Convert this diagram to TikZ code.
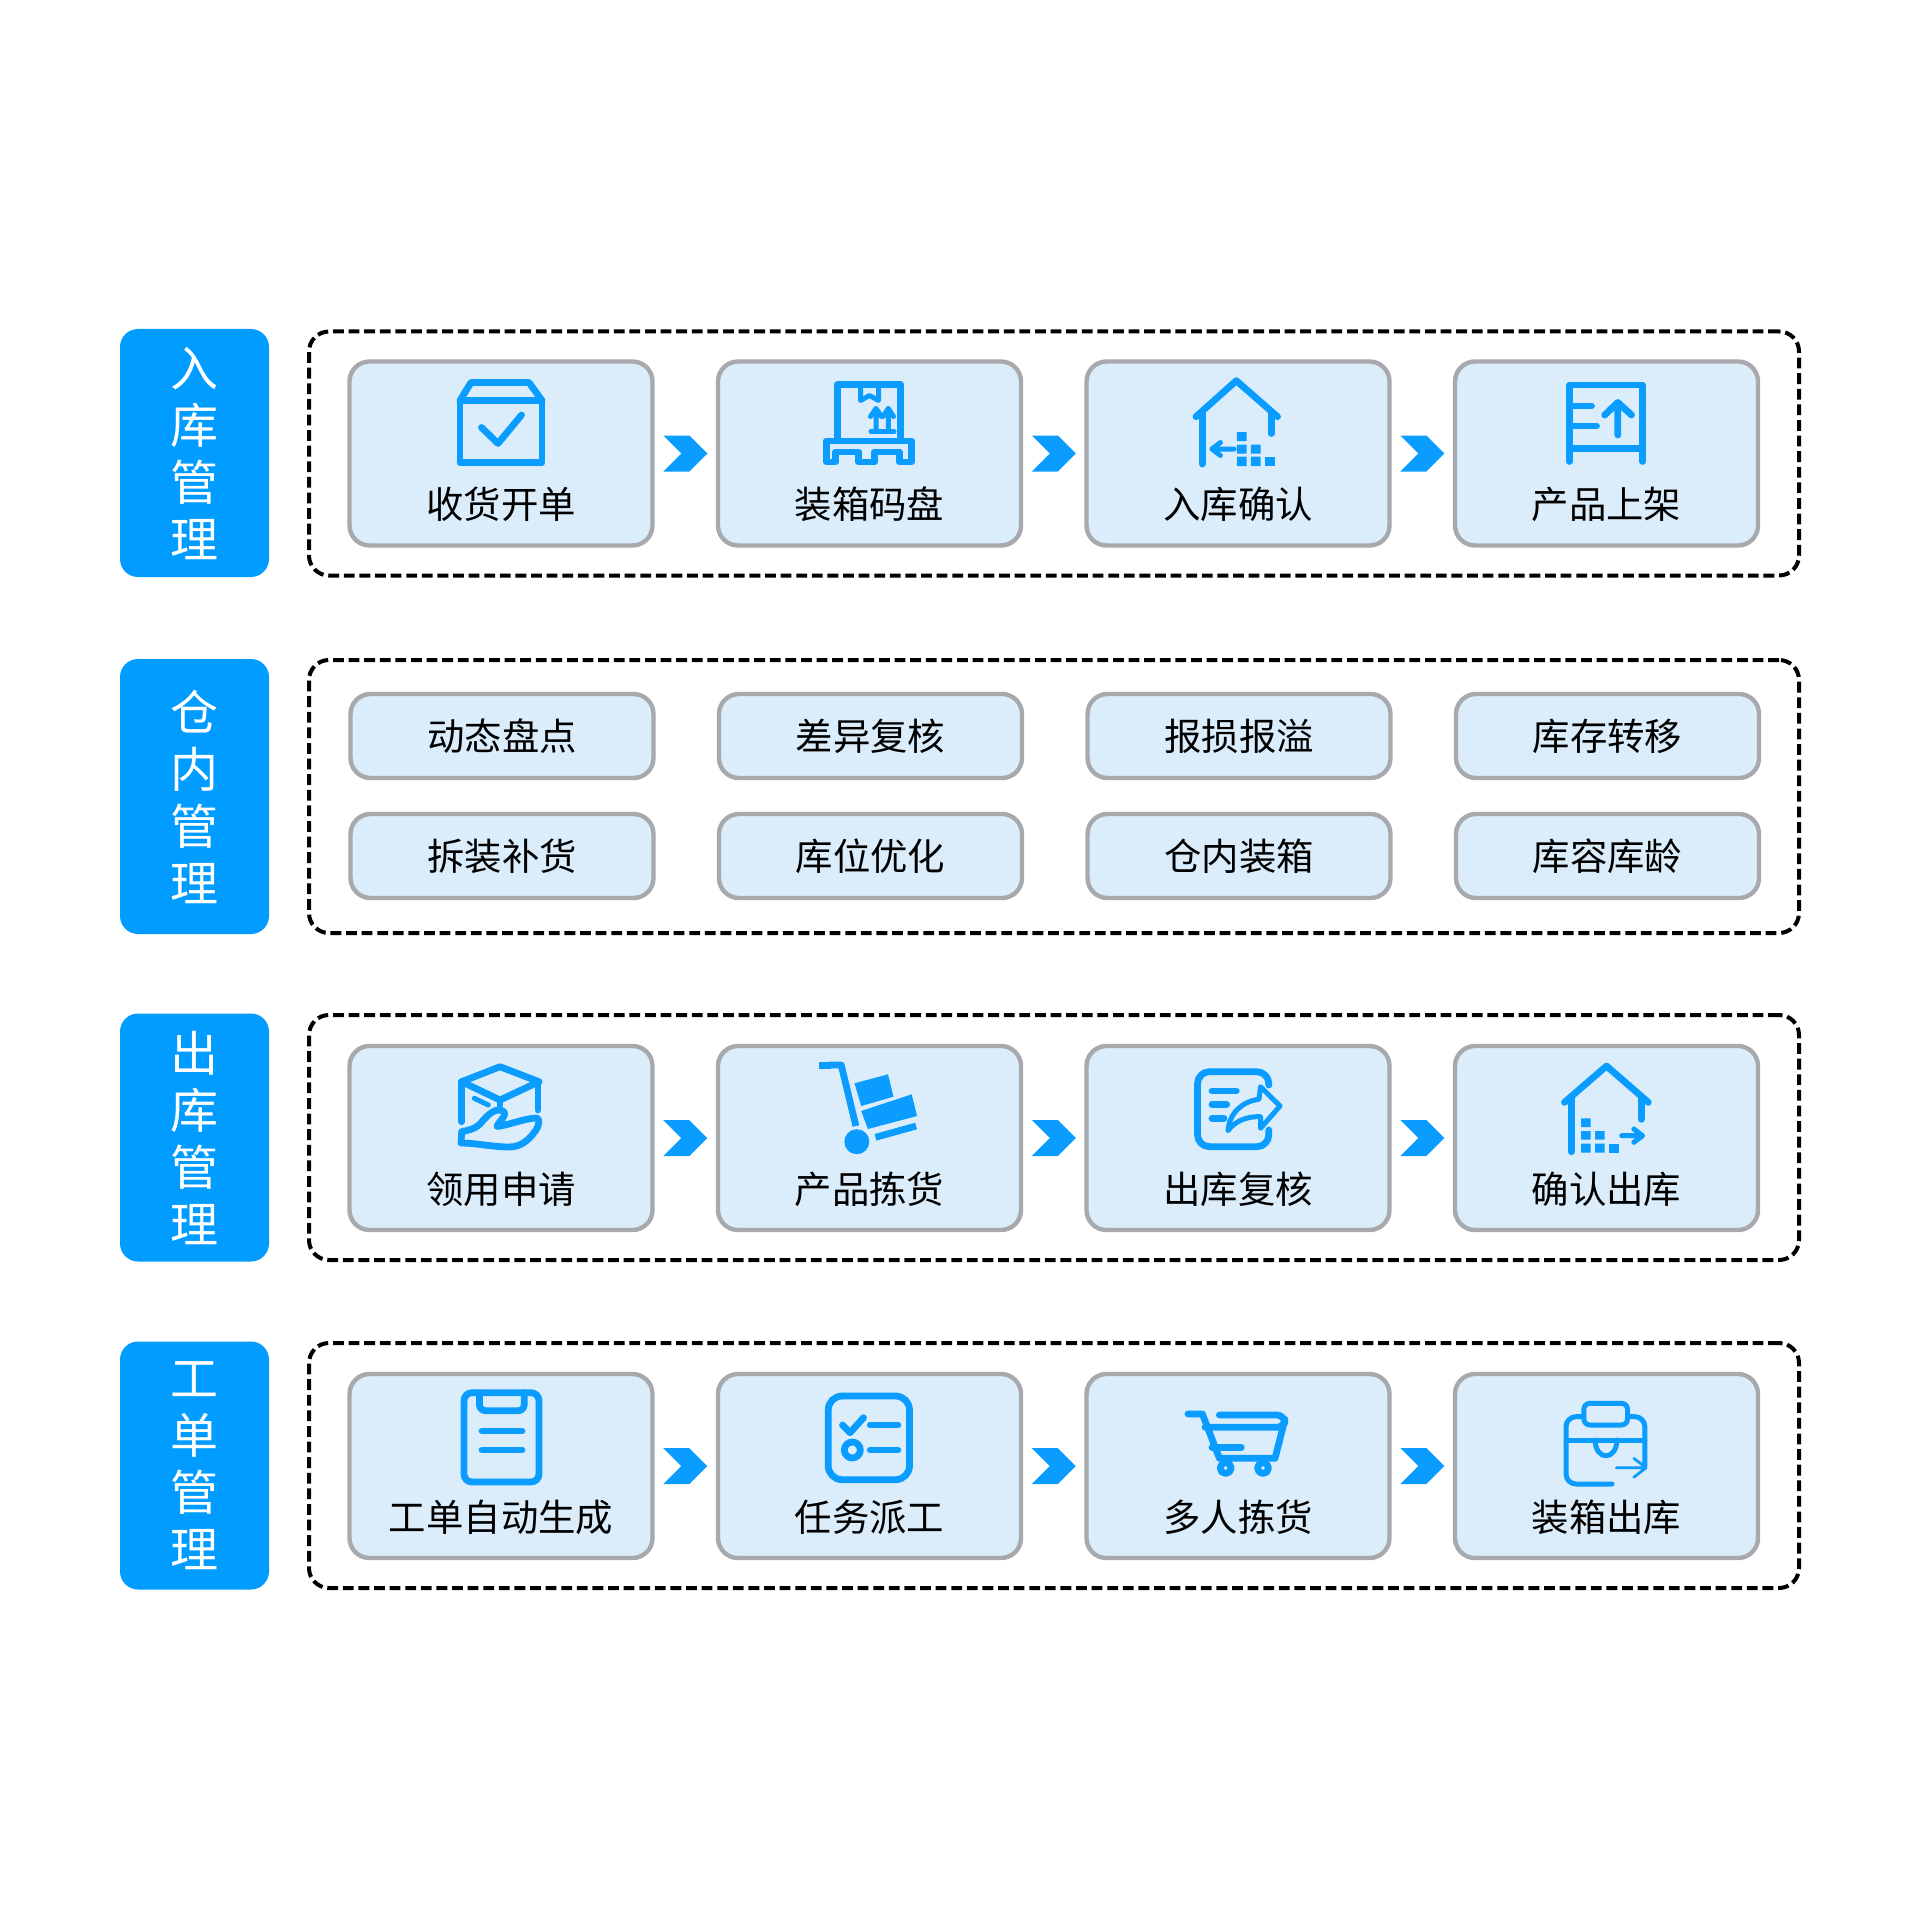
\documentclass[tikz,border=0pt]{standalone}
\usepackage{fontspec}
\setmainfont{Noto Sans CJK SC}
\usetikzlibrary{shapes.symbols}
\definecolor{headblue}{RGB}{0,156,255}
\definecolor{iconblue}{RGB}{10,157,255}
\definecolor{cardfill}{RGB}{219,237,251}
\definecolor{cardgray}{RGB}{167,169,172}

\begin{document}
\begin{tikzpicture}[x=0.5pt, y=-0.5pt,
    head/.style={rectangle, rounded corners=9pt, fill=headblue, text=white, align=center, minimum width=74.5pt, inner sep=0pt,
    	font=\fontsize{24}{28.5}\selectfont},
    frame/.style={rectangle, draw=black, line width=2pt, rounded corners=10pt, dash pattern=on 5.4pt off 2.4pt, minimum width=745pt, inner sep=0pt},
    card/.style={rectangle, draw=cardgray, fill=cardfill, line width=2.2pt, rounded corners=10pt, minimum width=151.5pt, minimum height=92pt, inner sep=0pt},
    tag/.style={card, minimum height=42pt, font=\fontsize{18.7}{22}\selectfont, text=black},
    cardtext/.style={inner sep=0pt, font=\fontsize{18.7}{22}\selectfont, text=black},
    chevron/.style={signal, signal to=east, signal from=west, signal pointer angle=90, fill=iconblue, minimum width=22pt, minimum height=18pt, inner sep=0pt},
    iconline/.style={draw=iconblue, line width=3.4pt, line cap=round, line join=round},
    iconthin/.style={draw=iconblue, line width=2.5pt, line cap=round, line join=round},
    boxcheck/.pic={
	\draw[iconline] (-41,-53) -- (41,-53) -- (41,9) -- (-41,9) -- cycle;
	\draw[iconline] (-41,-53) -- (-30,-71) -- (28,-71) -- (41,-53);
	\draw[iconline] (-19.5,-26) -- (-3,-10) -- (20.5,-38.5);
    },
    pallet/.pic={
	\draw[iconline] (-32,-14) -- (-32,-69) -- (31,-69) -- (31,-14);
	\draw[iconline] (-43,-12.5) -- (42,-12.5) -- (42,8.5) -- (30,8.5) -- (30,-1.5) -- (5,-1.5) -- (5,8.5) -- (-11,8.5) -- (-11,-1.5) -- (-34,-1.5) -- (-34,8.5) -- (-43,8.5) -- cycle;
	\draw[iconthin] (-9,-69) -- (-9,-53) -- (0,-58) -- (9,-53) -- (9,-69);
	\draw[iconthin] (6.5,-23) -- (6.5,-45) (1,-37) -- (6.5,-45) -- (12,-37);
	\draw[iconthin] (18.8,-23) -- (18.8,-45) (13.5,-37) -- (18.8,-45) -- (24,-37);
	\draw[iconthin] (1.5,-22) -- (24.5,-22);
    },
    housein/.pic={
	\draw[iconline] (-42,-36.8) -- (-1.7,-72.8) -- (39.5,-36.8);
	\draw[iconline] (-35.6,-42) -- (-35.6,10.5);
	\draw[iconline] (33.2,-40) -- (33.2,-20);
	\draw[iconthin] (-4,-4.5) -- (-26,-4.5) (-17.6,-11) -- (-26,-4.5) -- (-17.6,2);
	\fill[iconblue] (-1.2,-21.5) rectangle (8.5,-12.5) (-1.2,-9) rectangle (8.5,0) (-1.2,3) rectangle (8.5,12.5);
	\fill[iconblue] (12.9,-9) rectangle (22.6,0) (12.9,3) rectangle (22.6,12.5);
	\fill[iconblue] (27,3) rectangle (36.6,12.5);
    },
    shelf/.pic={
	\draw[iconline] (-37,8) -- (-37,-68.5) -- (36,-68.5) -- (36,8);
	\draw[iconline] (-37,-5) -- (36,-5);
	\draw[iconline] (-37,-47.5) -- (-15,-47.5) (-37,-27.5) -- (-10,-27.5);
	\draw[iconline] (11.3,-18.5) -- (11.3,-51) (-1.8,-38.5) -- (11.3,-51) -- (25,-38.5);
    },
    boxhand/.pic={
	\draw[iconline] (-1,-71.3) -- (38,-56.3) -- (-1,-38) -- (-39.3,-56.3) -- cycle;
	\draw[iconline] (-39.3,-56.3) -- (-39.3,-16.3) (37,-56.3) -- (37,-28) (-1,-38) -- (-1,-33);
	\draw[iconthin] (-26.7,-39.7) -- (-12.7,-33);
	\draw[iconline] (-39.3,-6.3) .. controls (-32,-8) and (-26,-9) .. (-21,-14) .. controls (-16,-20) and (-10,-27) .. (-3,-28) .. controls (2,-28) and (5,-26) .. (3,-22) .. controls (1,-18) and (-3,-15) .. (-4,-11.5) .. controls (8,-13) and (25,-20) .. (36,-20) .. controls (39,-19) and (38,-12) .. (35,-8) .. controls (28,2) and (20,9) .. (8,9) .. controls (-8,9) and (-25,5) .. (-40,5) -- cycle;
    },
    trolley/.pic={
	\fill[iconblue] (-50.7,-75.7) rectangle (-38.6,-68.7);
	\draw[iconline, line cap=butt] (-40,-73) -- (-28.3,-73) -- (-13.6,-12);
	\fill[iconblue] (-12.7,3.7) circle[radius=12.5];
	\fill[iconblue] (-15,-54.7) -- (18.5,-63.7) -- (24,-41.3) -- (-8.3,-32) -- cycle;
	\fill[iconblue] (-8.3,-27) -- (42.2,-43.7) -- (47.5,-22) -- (-1.6,-9) -- cycle;
	\draw[iconline, line cap=butt] (6,-0.7) -- (46.6,-12);
    },
    docshare/.pic={
	\draw[iconline, rounded corners=6pt] (30.8,-53) -- (30.8,-66.3) -- (-40.5,-66.3) -- (-40.5,8.7) -- (30.8,8.7) -- (30.8,-8);
	\draw[iconline] (-26,-47) -- (-1.7,-47) (-26,-33.7) -- (-11.4,-33.7) (-26,-19.7) -- (-14,-19.7);
	\draw[iconthin] (-10,-7.3) .. controls (-9,-25) and (5,-37) .. (21,-38.7) -- (22.5,-51.3) -- (42,-32) -- (22.5,-9.7) -- (22.5,-21.3) .. controls (8,-22) and (-4,-16) .. (-10,-7.3) -- cycle;
    },
    houseout/.pic={
	\draw[iconline] (-42,-35.7) -- (0,-72) -- (41.8,-35.7);
	\draw[iconline] (-35.3,-41) -- (-35.3,13.7);
	\draw[iconline] (34.6,-40) -- (34.6,-18.7);
	\fill[iconblue] (-25.5,-19.7) rectangle (-15.8,-11) (-25.5,-7) rectangle (-15.8,1.5) (-25.5,5.7) rectangle (-15.8,14.7);
	\fill[iconblue] (-11.5,-7) rectangle (-1.8,1.5) (-11.5,5.7) rectangle (-1.8,14.7);
	\fill[iconblue] (2.6,5.7) rectangle (12.2,14.7);
	\draw[iconthin] (15.2,-2.3) -- (36,-2.3) (27.3,-9) -- (36,-2.3) -- (27.3,4.3);
    },
    clipboard/.pic={
	\draw[iconline, rounded corners=4pt] (-37,-73.3) rectangle (38,16);
	\draw[iconline, rounded corners=3pt] (-21.5,-73.3) -- (-21.5,-55.3) -- (23.2,-55.3) -- (23.2,-73.3);
	\draw[iconline] (-19,-35) -- (21,-35) (-19,-16) -- (21,-16);
    },
    checklist/.pic={
	\draw[iconline, rounded corners=7pt] (-41.3,-70) rectangle (40,13.7);
	\draw[iconline] (-27,-41) -- (-19.5,-33.3) -- (-6,-48.3);
	\draw[iconline] (0.7,-41) -- (28.4,-41) (0.7,-16) -- (28.4,-16);
	\draw[iconline] (-17.2,-16) circle[radius=8];
    },
    cart/.pic={
	\draw[iconline] (-50,-52) -- (-35.6,-52) -- (-18.6,-7.7) -- (37,-7.7) -- (46.8,-46);
	\draw[iconline, rounded corners=4pt] (-18.6,-51) -- (46.8,-51) -- (46.8,-38.7) -- (-33,-38.7);
	\draw[iconline] (-26,-18.7) -- (3.2,-18.7);
	\draw[iconline] (-12.3,2) circle[radius=5.5] (25,2) circle[radius=5.5];
    },
    suitcase/.pic={
	\draw[iconthin, rounded corners=3pt] (-22.6,-62.7) rectangle (21,-41);
	\draw[iconthin, rounded corners=5pt] (-22.6,-49.3) -- (-40.5,-49.3) -- (-40.5,18) -- (5.5,18);
	\draw[iconthin, rounded corners=5pt] (21,-49.3) -- (38.4,-49.3) -- (38.4,-0.7);
	\draw[iconthin] (-40.5,-26) -- (38.4,-26);
	\draw[iconthin] (-11.5,-26) .. controls (-11,-5) and (10,-5) .. (10.4,-26);
	\draw[iconblue, line width=1.4pt, line cap=round, line join=round] (9.8,1.7) -- (39.5,1.7) (27.3,-7.7) -- (39.5,1.7) -- (27.3,11.3);
    }]
    \useasboundingbox (0,0) rectangle (1920,1920);

    \node[head, minimum height=124pt] (headIn) at (194.5,453) {入\\库\\管\\理};
    \node[frame, minimum height=122pt] (frameIn) at (1054,453.5) {};
    \node[card] (receive) at (501,453.5) {};
    \node[card] (pack) at (869.5,453.5) {};
    \node[card] (stockin) at (1238,453.5) {};
    \node[card] (shelve) at (1606.5,453.5) {};
    \pic at (receive) {boxcheck};
    \pic at (pack) {pallet};
    \pic at (stockin) {housein};
    \pic at (shelve) {shelf};
    \node[cardtext] (receiveText) at ([yshift=-25.5pt]receive) {收货开单};
    \node[cardtext] (packText) at ([yshift=-25.5pt]pack) {装箱码盘};
    \node[cardtext] (stockinText) at ([yshift=-25.5pt]stockin) {入库确认};
    \node[cardtext] (shelveText) at ([yshift=-25.5pt]shelve) {产品上架};
    \path (receive) -- node[chevron] (receiveNext) {} (pack);
    \path (pack) -- node[chevron] (packNext) {} (stockin);
    \path (stockin) -- node[chevron] (stockinNext) {} (shelve);

    \node[head, minimum height=137.5pt] (headInside) at (194.5,796.5) {仓\\内\\管\\理};
    \node[frame, minimum height=136.5pt] (frameInside) at (1054,796.5) {};
    \node[tag] (count) at (502,736) {动态盘点};
    \node[tag] (diff) at (870.5,736) {差异复核};
    \node[tag] (loss) at (1239,736) {报损报溢};
    \node[tag] (transfer) at (1607.5,736) {库存转移};
    \node[tag] (split) at (502,856) {拆装补货};
    \node[tag] (slot) at (870.5,856) {库位优化};
    \node[tag] (inbox) at (1239,856) {仓内装箱};
    \node[tag] (age) at (1607.5,856) {库容库龄};

    \node[head, minimum height=124pt] (headOut) at (194.5,1137.5) {出\\库\\管\\理};
    \node[frame, minimum height=122.5pt] (frameOut) at (1054,1137.5) {};
    \node[card] (request) at (501,1138) {};
    \node[card] (pick) at (869.5,1138) {};
    \node[card] (recheck) at (1238,1138) {};
    \node[card] (stockout) at (1606.5,1138) {};
    \pic at (request) {boxhand};
    \pic at (pick) {trolley};
    \pic at (recheck) {docshare};
    \pic at (stockout) {houseout};
    \node[cardtext] (requestText) at ([yshift=-25.5pt]request) {领用申请};
    \node[cardtext] (pickText) at ([yshift=-25.5pt]pick) {产品拣货};
    \node[cardtext] (recheckText) at ([yshift=-25.5pt]recheck) {出库复核};
    \node[cardtext] (stockoutText) at ([yshift=-25.5pt]stockout) {确认出库};
    \path (request) -- node[chevron] (requestNext) {} (pick);
    \path (pick) -- node[chevron] (pickNext) {} (recheck);
    \path (recheck) -- node[chevron] (recheckNext) {} (stockout);

    \node[head, minimum height=124pt] (headOrder) at (194.5,1465.5) {工\\单\\管\\理};
    \node[frame, minimum height=122.5pt] (frameOrder) at (1054,1465.5) {};
    \node[card] (order) at (501,1466) {};
    \node[card] (assign) at (869.5,1466) {};
    \node[card] (multi) at (1238,1466) {};
    \node[card] (boxout) at (1606.5,1466) {};
    \pic at (order) {clipboard};
    \pic at (assign) {checklist};
    \pic at (multi) {cart};
    \pic at (boxout) {suitcase};
    \node[cardtext] (orderText) at ([yshift=-25.5pt]order) {工单自动生成};
    \node[cardtext] (assignText) at ([yshift=-25.5pt]assign) {任务派工};
    \node[cardtext] (multiText) at ([yshift=-25.5pt]multi) {多人拣货};
    \node[cardtext] (boxoutText) at ([yshift=-25.5pt]boxout) {装箱出库};
    \path (order) -- node[chevron] (orderNext) {} (assign);
    \path (assign) -- node[chevron] (assignNext) {} (multi);
    \path (multi) -- node[chevron] (multiNext) {} (boxout);
\end{tikzpicture}
\end{document}
